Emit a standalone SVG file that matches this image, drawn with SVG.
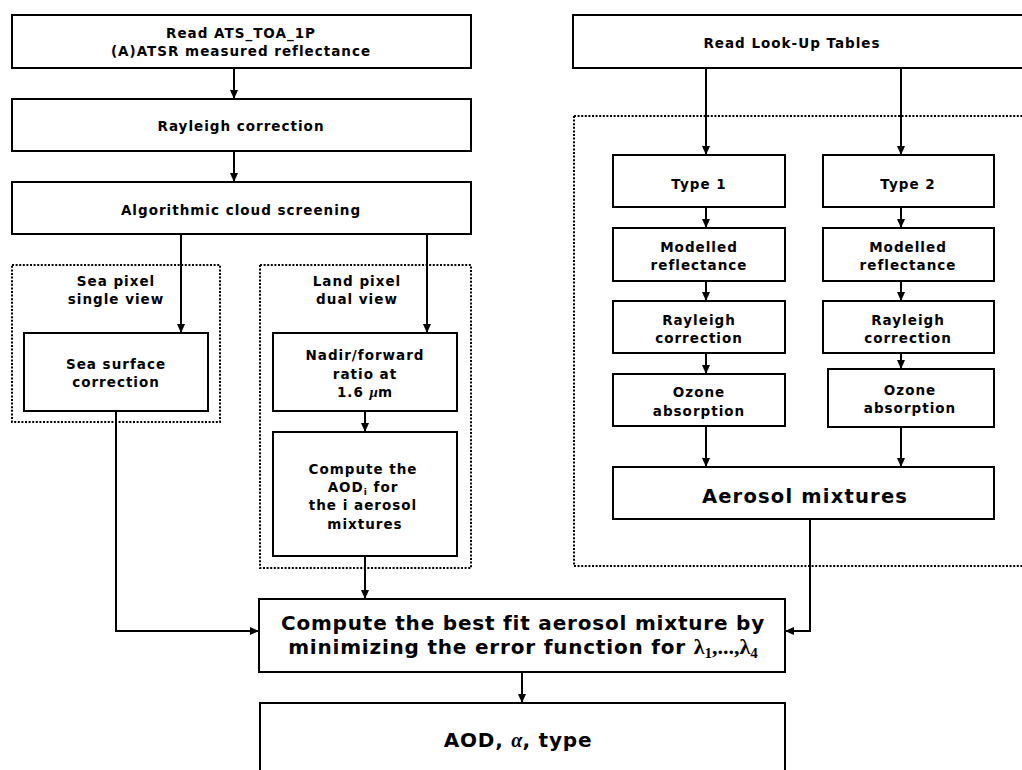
<svg xmlns="http://www.w3.org/2000/svg" width="1022" height="770" viewBox="0 0 1022 770">
<defs>
<marker id="ah" markerUnits="userSpaceOnUse" markerWidth="10" markerHeight="10" viewBox="0 0 10 10" refX="9" refY="5" orient="auto">
<path d="M0,1 L9,5 L0,9 Z" fill="#000"/>
</marker>
<style>
.box{fill:#fff;stroke:#000;stroke-width:2}
.dot{fill:none;stroke:#000;stroke-width:2;stroke-dasharray:2 1.6}
.t{font-family:"DejaVu Sans",Verdana,sans-serif;font-weight:bold;font-size:13.5px;letter-spacing:1px;text-anchor:middle;fill:#000}
.big{font-family:"DejaVu Sans",Verdana,sans-serif;font-weight:bold;font-size:20px;letter-spacing:0.8px;text-anchor:middle;fill:#000}
.c{fill:none;stroke:#000;stroke-width:2;marker-end:url(#ah)}
.ser{font-family:"Liberation Serif","DejaVu Serif",serif;font-weight:bold;fill:#000;letter-spacing:0}
</style>
</defs>
<rect width="1022" height="770" fill="#fff"/>
<g id="containers">
<rect id="sea-pixel" class="dot" x="12" y="265" width="208" height="157"/>
<rect id="land-pixel" class="dot" x="260" y="265" width="211" height="303"/>
<rect id="lut-group" class="dot" x="574" y="116" width="460" height="450"/>
</g>
<g id="connectors">
<path class="c" d="M234,68 V99"/>
<path class="c" d="M234,151 V182"/>
<path class="c" d="M181,234 V333"/>
<path class="c" d="M427,234 V333"/>
<path class="c" d="M365,411 V432"/>
<path class="c" d="M365,556 V599"/>
<path class="c" d="M116,411 V631 H259"/>
<path class="c" d="M810,519 V631 H785"/>
<path class="c" d="M522,672 V703"/>
<path class="c" d="M706,68 V155"/>
<path class="c" d="M901,68 V155"/>
<path class="c" d="M706,207 V228"/>
<path class="c" d="M901,207 V228"/>
<path class="c" d="M706,281 V301"/>
<path class="c" d="M901,281 V301"/>
<path class="c" d="M706,353 V374"/>
<path class="c" d="M901,353 V369"/>
<path class="c" d="M706,426 V467"/>
<path class="c" d="M901,427 V467"/>
</g>
<g id="read-ats">
<rect class="box" x="12" y="15" width="459" height="53"/>
<text class="t" x="241" y="38">Read ATS_TOA_1P</text>
<text class="t" x="241" y="56">(A)ATSR measured reflectance</text>
</g>
<g id="rayleigh-main">
<rect class="box" x="12" y="99" width="459" height="52"/>
<text class="t" x="241" y="131">Rayleigh correction</text>
</g>
<g id="cloud-screening">
<rect class="box" x="12" y="182" width="459" height="52"/>
<text class="t" x="241" y="215">Algorithmic cloud screening</text>
</g>
<g id="sea-label">
<text class="t" x="116" y="286">Sea pixel</text>
<text class="t" x="116" y="304">single view</text>
</g>
<g id="sea-surface">
<rect class="box" x="24" y="333" width="184" height="78"/>
<text class="t" x="116" y="369">Sea surface</text>
<text class="t" x="116" y="387">correction</text>
</g>
<g id="land-label">
<text class="t" x="357" y="286">Land pixel</text>
<text class="t" x="357" y="304">dual view</text>
</g>
<g id="nadir-forward">
<rect class="box" x="273" y="333" width="184" height="78"/>
<text class="t" x="365" y="360">Nadir/forward</text>
<text class="t" x="365" y="379">ratio at</text>
<text class="t" x="365" y="397">1.6 <tspan class="ser" font-style="italic" font-size="15">μ</tspan>m</text>
</g>
<g id="compute-aod">
<rect class="box" x="273" y="432" width="184" height="124"/>
<text class="t" x="363" y="474">Compute the</text>
<text class="t" x="363" y="492">AOD<tspan font-size="9" dy="3">i</tspan><tspan dy="-3"> for</tspan></text>
<text class="t" x="363" y="510">the i aerosol</text>
<text class="t" x="365" y="529">mixtures</text>
</g>
<g id="read-lut">
<rect class="box" x="573" y="15" width="460" height="53"/>
<text class="t" x="792" y="48">Read Look-Up Tables</text>
</g>
<g id="type1">
<rect class="box" x="613" y="155" width="172" height="52"/>
<text class="t" x="699" y="189">Type 1</text>
</g>
<g id="type2">
<rect class="box" x="823" y="155" width="171" height="52"/>
<text class="t" x="908" y="189">Type 2</text>
</g>
<g id="modelled1">
<rect class="box" x="613" y="228" width="172" height="53"/>
<text class="t" x="699" y="252">Modelled</text>
<text class="t" x="699" y="270">reflectance</text>
</g>
<g id="modelled2">
<rect class="box" x="823" y="228" width="171" height="53"/>
<text class="t" x="908" y="252">Modelled</text>
<text class="t" x="908" y="270">reflectance</text>
</g>
<g id="rayleigh1">
<rect class="box" x="613" y="301" width="172" height="52"/>
<text class="t" x="699" y="325">Rayleigh</text>
<text class="t" x="699" y="343">correction</text>
</g>
<g id="rayleigh2">
<rect class="box" x="823" y="301" width="171" height="52"/>
<text class="t" x="908" y="325">Rayleigh</text>
<text class="t" x="908" y="343">correction</text>
</g>
<g id="ozone1">
<rect class="box" x="613" y="374" width="172" height="52"/>
<text class="t" x="699" y="397">Ozone</text>
<text class="t" x="699" y="416">absorption</text>
</g>
<g id="ozone2">
<rect class="box" x="828" y="369" width="166" height="58"/>
<text class="t" x="910" y="395">Ozone</text>
<text class="t" x="910" y="413">absorption</text>
</g>
<g id="aerosol-mixtures">
<rect class="box" x="613" y="467" width="381" height="52"/>
<text class="t" x="805" y="503" style="font-size:19.5px;letter-spacing:1.2px">Aerosol mixtures</text>
</g>
<g id="best-fit">
<rect class="box" x="259" y="599" width="526" height="73"/>
<text class="big" x="523" y="630">Compute the best fit aerosol mixture by</text>
<text class="big" x="523" y="654">minimizing the error function for <tspan class="ser" font-size="22">λ<tspan font-size="15" dy="4">1</tspan><tspan dy="-4">,...,λ</tspan><tspan font-size="15" dy="4">4</tspan></tspan></text>
</g>
<g id="result">
<rect class="box" x="260" y="703" width="525" height="80"/>
<text class="big" x="518" y="747">AOD, <tspan class="ser" font-style="italic">α</tspan>, type</text>
</g>
</svg>
